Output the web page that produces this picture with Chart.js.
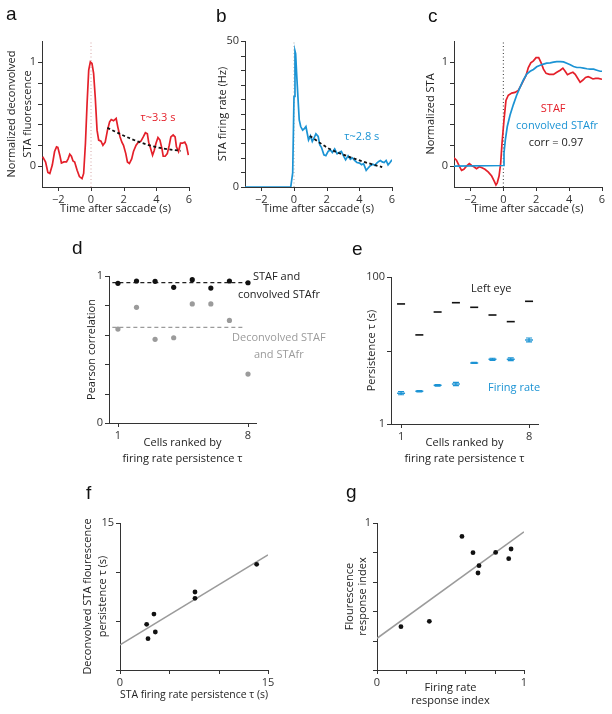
<!DOCTYPE html>
<html lang="en">
<head>
<meta charset="UTF-8">
<title>Saccade-triggered STA and persistence</title>
<script src="https://cdn.jsdelivr.net/npm/chart.js"></script>
<style>
  body { margin: 0; background: #fff; }
  #fig { position: relative; width: 612px; height: 714px; overflow: hidden; }
  #fig canvas { position: absolute; left: 0; top: 0; }
  .tag { position: absolute; font: 19px/19px "Liberation Sans", Arial, sans-serif; color: #111; }
</style>
</head>
<body>
<div id="fig">
  <canvas id="pa" width="612" height="714"></canvas>
  <canvas id="pb" width="612" height="714"></canvas>
  <canvas id="pc" width="612" height="714"></canvas>
  <canvas id="pd" width="612" height="714"></canvas>
  <canvas id="pe" width="612" height="714"></canvas>
  <canvas id="pf" width="612" height="714"></canvas>
  <canvas id="pg" width="612" height="714"></canvas>
  <div class="tag" style="left:6px;top:4px">a</div>
  <div class="tag" style="left:216px;top:6px">b</div>
  <div class="tag" style="left:428px;top:6px">c</div>
  <div class="tag" style="left:72px;top:238px">d</div>
  <div class="tag" style="left:352px;top:239px">e</div>
  <div class="tag" style="left:86px;top:483px">f</div>
  <div class="tag" style="left:346px;top:482px">g</div>
</div>
<script>
// a: deconvolved STA fluorescence around the saccade
const timeA = [-2.96, -2.78, -2.64, -2.52, -2.37, -2.23, -2.11, -2.03, -1.91, -1.81,
               -1.66, -1.5, -1.4, -1.3, -1.2, -1.1, -1.0, -0.85, -0.71, -0.55,
               -0.45, -0.34, -0.24, -0.14, -0.04, 0.06, 0.16, 0.26, 0.37, 0.47,
               0.61, 0.73, 0.87, 1.01, 1.14, 1.24, 1.38, 1.54, 1.64, 1.78,
               1.89, 1.99, 2.13, 2.23, 2.35, 2.49, 2.6, 2.76, 2.9, 3.06,
               3.2, 3.33, 3.45, 3.53, 3.65, 3.77, 3.87, 3.98, 4.1, 4.22,
               4.34, 4.42, 4.54, 4.67, 4.79, 4.89, 5.03, 5.15, 5.23, 5.36,
               5.48, 5.6, 5.74, 5.84, 5.96];
const fluorA = [0.09, 0.04, -0.06, -0.07, 0.01, 0.14, 0.185, 0.18, 0.105, 0.03,
                0.04, 0.04, 0.07, 0.115, 0.095, 0.05, 0.04, -0.04, -0.10, -0.12,
                -0.07, 0.22, 0.60, 0.92, 1.0, 0.985, 0.89, 0.66, 0.345, 0.25,
                0.24, 0.20, 0.23, 0.345, 0.425, 0.447, 0.435, 0.457, 0.377, 0.28,
                0.23, 0.20, 0.12, 0.04, 0.025, 0.07, 0.14, 0.20, 0.23, 0.24,
                0.28, 0.32, 0.31, 0.23, 0.17, 0.105, 0.15, 0.22, 0.275, 0.25,
                0.17, 0.095, 0.095, 0.12, 0.20, 0.28, 0.30, 0.28, 0.185, 0.14,
                0.22, 0.22, 0.23, 0.20, 0.105];
const fitTimeA = [1.0, 2.4, 3.4, 4.4, 5.5];
const fitA = [0.367, 0.265, 0.208, 0.17, 0.147];

// b: STA firing rate (Hz)
const timeB = [-3, -0.2, -0.08, 0, 0.06, 0.1, 0.16, 0.24, 0.32, 0.41,
               0.53, 0.65, 0.73, 0.81, 0.89, 1.01, 1.12, 1.22, 1.34, 1.48,
               1.58, 1.68, 1.83, 1.95, 2.09, 2.23, 2.35, 2.49, 2.64, 2.76,
               2.9, 3.0, 3.16, 3.31, 3.45, 3.57, 3.71, 3.85, 4.02, 4.14,
               4.26, 4.42, 4.54, 4.67, 4.83, 4.95, 5.07, 5.19, 5.29, 5.4,
               5.52, 5.64, 5.76, 5.88, 6.0];
const rateB = [0, 0, 4.8, 31, 46.6, 45.7, 38.9, 30.9, 23, 20.7,
               19.5, 20.1, 20.7, 18.4, 16.1, 17.5, 15.6, 16.7, 18.2, 17.3,
               14.4, 13.6, 11.0, 10.7, 12.2, 12.7, 11.8, 13.0, 11.4, 11.8,
               12.2, 11.0, 9.3, 10.7, 9.5, 10.0, 9.1, 8.4, 8.2, 7.6,
               8.0, 5.7, 6.5, 7.3, 7.8, 7.4, 8.2, 8.75, 9.1, 8.6,
               8.4, 9.1, 7.6, 8.4, 9.3];
const fitTimeB = [0.97, 2.19, 3.2, 4.2, 5.4];
const fitB = [17.5, 13.0, 10.7, 8.75, 6.8];

// c: normalized STAF vs convolved STAfr
const timeStaf = [-3.0, -2.85, -2.68, -2.54, -2.4, -2.24, -2.07, -1.93, -1.79, -1.63,
                  -1.46, -1.3, -1.12, -0.91, -0.71, -0.57, -0.45, -0.37, -0.26, -0.16,
                  -0.08, 0.04, 0.16, 0.3, 0.51, 0.71, 0.91, 1.06, 1.22, 1.38,
                  1.52, 1.67, 1.83, 1.99, 2.15, 2.3, 2.44, 2.6, 2.8, 3.05,
                  3.25, 3.46, 3.62, 3.76, 3.9, 4.07, 4.23, 4.37, 4.51, 4.67,
                  4.84, 5.0, 5.16, 5.28, 5.45, 5.61, 5.77, 6.0];
const staf = [0.08, 0.057, 0, -0.04, -0.03, 0, 0.025, 0.006, -0.006, -0.025,
              -0.006, -0.016, -0.03, -0.057, -0.095, -0.14, -0.18, -0.16, -0.095, 0.03,
              0.22, 0.44, 0.63, 0.68, 0.70, 0.707, 0.726, 0.77, 0.82, 0.87,
              0.946, 0.99, 1.01, 1.04, 1.04, 0.99, 0.93, 0.89, 0.88, 0.88,
              0.9, 0.92, 0.94, 0.91, 0.877, 0.89, 0.9, 0.88, 0.845, 0.804,
              0.826, 0.85, 0.858, 0.85, 0.836, 0.842, 0.842, 0.833];
const timeConv = [-3.0, 0.0, 0.04, 0.12, 0.24, 0.41, 0.61, 0.81, 1.02, 1.22,
                  1.42, 1.63, 1.83, 2.03, 2.24, 2.44, 2.64, 2.85, 3.05, 3.25,
                  3.46, 3.66, 3.86, 4.07, 4.27, 4.47, 4.67, 4.88, 5.08, 5.28,
                  5.49, 5.69, 5.89, 6.0];
const convStafr = [0, 0.006, 0.126, 0.25, 0.38, 0.49, 0.59, 0.68, 0.757, 0.826,
                   0.883, 0.91, 0.927, 0.953, 0.968, 0.978, 0.987, 0.99, 0.997, 1.003,
                   1.003, 1.0, 0.987, 0.972, 0.956, 0.946, 0.946, 0.94, 0.934, 0.93,
                   0.93, 0.92, 0.91, 0.91];

// d: Pearson correlation per cell
const cells = [1, 2, 3, 4, 5, 6, 7, 8];
const corrConvolved = [0.95, 0.966, 0.964, 0.923, 0.975, 0.918, 0.966, 0.954];
const corrDeconvolved = [0.639, 0.787, 0.569, 0.58, 0.81, 0.81, 0.698, 0.333];
const meanConvolved = 0.955;
const meanDeconvolved = 0.651;
const meanSpanConv = [0.7, 8.0];
const meanSpanDeconv = [0.7, 7.8];

// e: persistence tau (s)
const tauLeftEye = [43, 16.3, 33.4, 44.7, 38.7, 30.4, 24.7, 46.7];
const tauFiring = [2.62, 2.79, 3.36, 3.5, 6.76, 7.6, 7.6, 13.9];
const tauFiringLow = [2.5, 2.73, 3.28, 3.33, 6.65, 7.35, 7.3, 13.1];
const tauFiringHigh = [2.75, 2.85, 3.44, 3.68, 6.88, 7.85, 7.95, 14.8];

// f: fluorescence vs firing-rate persistence
const tauRateF = [2.7, 2.84, 3.44, 3.58, 7.6, 7.6, 13.85];
const tauFluorF = [4.66, 3.2, 5.71, 3.88, 7.96, 7.31, 10.78];
const fitXF = [0, 15];
const fitYF = [2.56, 11.75];

// g: response indices
const riRate = [0.163, 0.356, 0.578, 0.653, 0.694, 0.687, 0.807, 0.896, 0.912];
const riFluor = [0.295, 0.331, 0.909, 0.798, 0.71, 0.66, 0.80, 0.757, 0.823];
const fitXG = [0, 1];
const fitYG = [0.216, 0.94];

const FONT = '"Open Sans", "Noto Sans", sans-serif';
const INK = '#333';
const RED = '#e4202a';
const BLUE = '#1b93d4';
const GREY = '#9b9b9b';
const YW = 40, XH = 40;

const pts = (xs, ys) => xs.map((x, i) => ({ x: x, y: ys[i] }));
const fmt = v => String(v).replace('-', '\u2212');

function notesPlugin(items) {
  return {
    id: 'notes',
    afterDatasetsDraw(chart) {
      const { ctx, scales } = chart;
      ctx.save();
      ctx.textBaseline = 'middle';
      items.forEach(n => {
        ctx.font = '11px ' + FONT;
        ctx.fillStyle = n.color || '#222';
        ctx.textAlign = n.align || 'center';
        ctx.fillText(n.text, scales.x.getPixelForValue(n.x), scales.y.getPixelForValue(n.y));
      });
      ctx.restore();
    }
  };
}

// short outward tick marks at every tick of both axes
const tickMarks = {
  id: 'tickMarks',
  afterDraw(chart) {
    const { ctx, chartArea: ca, scales } = chart;
    ctx.save();
    ctx.strokeStyle = INK;
    ctx.lineWidth = 1;
    ctx.beginPath();
    scales.x.ticks.forEach(t => {
      const px = Math.round(scales.x.getPixelForValue(t.value)) + 0.5;
      ctx.moveTo(px, ca.bottom);
      ctx.lineTo(px, ca.bottom + 4);
    });
    scales.y.ticks.forEach(t => {
      const py = Math.round(scales.y.getPixelForValue(t.value)) + 0.5;
      ctx.moveTo(ca.left, py);
      ctx.lineTo(ca.left - 4, py);
    });
    ctx.stroke();
    ctx.restore();
  }
};

const errorBars = {
  id: 'errorBars',
  afterDatasetsDraw(chart) {
    const { ctx } = chart;
    chart.data.datasets.forEach((ds, i) => {
      if (!ds.errLo) return;
      const y = chart.scales.y;
      ctx.save();
      ctx.strokeStyle = ds.pointBorderColor;
      ctx.lineWidth = 1.2;
      chart.getDatasetMeta(i).data.forEach((p, j) => {
        const lo = y.getPixelForValue(ds.errLo[j]);
        const hi = y.getPixelForValue(ds.errHi[j]);
        ctx.beginPath();
        ctx.moveTo(p.x, lo); ctx.lineTo(p.x, hi);
        ctx.moveTo(p.x - 3, lo); ctx.lineTo(p.x + 3, lo);
        ctx.moveTo(p.x - 3, hi); ctx.lineTo(p.x + 3, hi);
        ctx.stroke();
      });
      ctx.restore();
    });
  }
};

function scaleCfg(a, isY, area) {
  const lines = [].concat(a.title);
  const lh = a.lh || 15;
  const pad = isY
    ? { top: a.titleAt - (area.l - YW) - lh / 2, bottom: 0 }
    : { top: 0, bottom: area.b + XH - a.titleAt - lh / 2 - lh * (lines.length - 1) };
  return {
    type: a.type || 'linear',
    min: a.min,
    max: a.max,
    afterBuildTicks: s => { s.ticks = a.ticks.map(v => ({ value: v })); },
    afterFit: s => {
      if (isY) s.width = YW; else s.height = XH;
      s.paddingTop = s.paddingBottom = s.paddingLeft = s.paddingRight = 0;
    },
    border: { display: true, color: INK, width: 1 },
    grid: { display: false, drawTicks: false, tickLength: 0 },
    ticks: {
      autoSkip: false, maxRotation: 0, minRotation: 0, padding: 6, color: INK,
      font: { family: FONT, size: 11 },
      callback: v => a.labels.some(l => Math.abs(l - v) < 1e-9) ? fmt(v) : ''
    },
    title: {
      display: true, text: lines, color: '#222', padding: pad,
      font: { family: FONT, size: 11, lineHeight: lh / 11 }
    }
  };
}

function makeChart(id, area, xa, ya, datasets, notes) {
  return new Chart(document.getElementById(id), {
    type: 'scatter',
    data: { datasets: datasets },
    options: {
      responsive: false,
      animation: false,
      events: [],
      layout: { padding: { left: area.l - YW, top: area.t, right: 612 - area.r, bottom: 714 - area.b - XH } },
      scales: { x: scaleCfg(xa, false, area), y: scaleCfg(ya, true, area) },
      plugins: { legend: { display: false }, tooltip: { enabled: false } }
    },
    plugins: [notesPlugin(notes || []), errorBars, tickMarks]
  });
}

const trace = (data, color, width) => ({
  data: data, showLine: true, borderColor: color, borderWidth: width, pointRadius: 0
});
const dashed = (data, color, width, dash) => Object.assign(trace(data, color, width), { borderDash: dash });
const dots = (data, color, r) => ({
  data: data, pointRadius: r, pointBackgroundColor: color, pointBorderWidth: 0, clip: false
});

const timeAxis = { min: -3, max: 6, ticks: [-2, 0, 2, 4, 6], labels: [-2, 0, 2, 4, 6], title: 'Time after saccade (s)', titleAt: 209 };
const unitTicks = [0, 0.2, 0.4, 0.6, 0.8, 1];
const rankAxis = { ticks: [1, 8], labels: [1, 8], title: ['Cells ranked by', 'firing rate persistence \u03c4'], titleAt: 443, lh: 16 };

// a
makeChart('pa', { l: 42, r: 189, t: 41, b: 187 }, timeAxis,
  { min: -0.2, max: 1.2, ticks: unitTicks, labels: [0, 1], title: ['Normalized deconvolved', 'STA fluorescence'], titleAt: 12, lh: 16 },
  [
    Object.assign(dashed(pts(fitTimeA, fitA), '#111', 1.8, [3, 2.5]), { cubicInterpolationMode: 'monotone' }),
    trace(pts(timeA, fluorA), RED, 1.7),
    dashed(pts([0, 0], [-0.2, 1.2]), '#d4a4a4', 1, [1, 2.5])
  ],
  [{ text: '\u03c4~3.3 s', x: 4.1, y: 0.46, color: RED }]);

// b
makeChart('pb', { l: 245, r: 392, t: 41, b: 187 }, timeAxis,
  { min: 0, max: 50, ticks: [0, 5, 10, 15, 20, 25, 30, 35, 40, 45, 50], labels: [0, 50], title: 'STA firing rate (Hz)', titleAt: 223 },
  [
    Object.assign(dashed(pts(fitTimeB, fitB), '#111', 1.8, [3, 2.5]), { cubicInterpolationMode: 'monotone' }),
    trace(pts(timeB, rateB), BLUE, 1.7),
    dashed(pts([0, 0], [0, 50]), '#aaaaaa', 1, [1, 2.5])
  ],
  [{ text: '\u03c4~2.8 s', x: 4.15, y: 17.1, color: BLUE }]);

// c
makeChart('pc', { l: 454, r: 602, t: 41, b: 187 }, timeAxis,
  { min: -0.2, max: 1.2, ticks: unitTicks, labels: [0, 1], title: 'Normalized STA', titleAt: 431 },
  [
    trace(pts(timeConv, convStafr), BLUE, 1.7),
    trace(pts(timeStaf, staf), RED, 1.7),
    dashed(pts([0, 0], [-0.2, 1.2]), '#333', 1, [1, 2.5])
  ],
  [
    { text: 'STAF', x: 3.03, y: 0.55, color: RED },
    { text: 'convolved STAfr', x: 3.27, y: 0.385, color: BLUE },
    { text: 'corr = 0.97', x: 3.2, y: 0.224, color: '#222' }
  ]);

// d
makeChart('pd', { l: 109, r: 256, t: 276, b: 423 }, Object.assign({ min: 0.52, max: 8.43 }, rankAxis),
  { min: 0, max: 1, ticks: unitTicks, labels: [0, 1], title: 'Pearson correlation', titleAt: 92 },
  [
    dots(pts(cells, corrConvolved), '#111', 2.6),
    dots(pts(cells, corrDeconvolved), GREY, 2.6),
    dashed(pts(meanSpanConv, [meanConvolved, meanConvolved]), '#222', 1.2, [4, 3]),
    dashed(pts(meanSpanDeconv, [meanDeconvolved, meanDeconvolved]), GREY, 1.2, [4, 3])
  ],
  [
    { text: 'STAF and', x: 8.27, y: 0.993, align: 'left' },
    { text: 'convolved STAfr', x: 7.46, y: 0.871, align: 'left' },
    { text: 'Deconvolved STAF', x: 7.14, y: 0.578, align: 'left', color: GREY },
    { text: 'and STAfr', x: 8.32, y: 0.463, align: 'left', color: GREY }
  ]);

// e
makeChart('pe', { l: 391, r: 538, t: 277, b: 424 }, Object.assign({ min: 0.45, max: 8.49 }, rankAxis),
  { type: 'logarithmic', min: 1, max: 100, ticks: [1, 10, 100], labels: [1, 100], title: 'Persistence \u03c4 (s)', titleAt: 372 },
  [
    { data: pts(cells, tauLeftEye), pointStyle: 'line', pointRadius: 4, pointBorderWidth: 1.6, pointBorderColor: '#111', clip: false },
    { data: pts(cells, tauFiring), pointStyle: 'line', pointRadius: 4, pointBorderWidth: 1.4, pointBorderColor: BLUE, clip: false,
      errLo: tauFiringLow, errHi: tauFiringHigh }
  ],
  [
    { text: 'Left eye', x: 4.83, y: 68.7, align: 'left' },
    { text: 'Firing rate', x: 5.76, y: 3.09, align: 'left', color: BLUE }
  ]);

// f
makeChart('pf', { l: 120, r: 268, t: 523, b: 670 },
  { min: 0, max: 15, ticks: [0, 5, 10, 15], labels: [0, 15], title: 'STA firing rate persistence \u03c4 (s)', titleAt: 695 },
  { min: 0, max: 15, ticks: [0, 5, 10, 15], labels: [15], title: ['Deconvolved STA flourescence', 'persistence \u03c4 (s)'], titleAt: 88, lh: 15 },
  [
    dots(pts(tauRateF, tauFluorF), '#111', 2.4),
    trace(pts(fitXF, fitYF), GREY, 1.6)
  ]);

// g
makeChart('pg', { l: 377, r: 524, t: 523, b: 670 },
  { min: 0, max: 1, ticks: unitTicks, labels: [0, 1], title: ['Firing rate', 'response index'], titleAt: 688, lh: 12.5 },
  { min: 0, max: 1, ticks: unitTicks, labels: [1], title: ['Flourescence', 'response index'], titleAt: 350, lh: 13 },
  [
    dots(pts(riRate, riFluor), '#111', 2.4),
    trace(pts(fitXG, fitYG), GREY, 1.6)
  ]);
</script>
</body>
</html>
